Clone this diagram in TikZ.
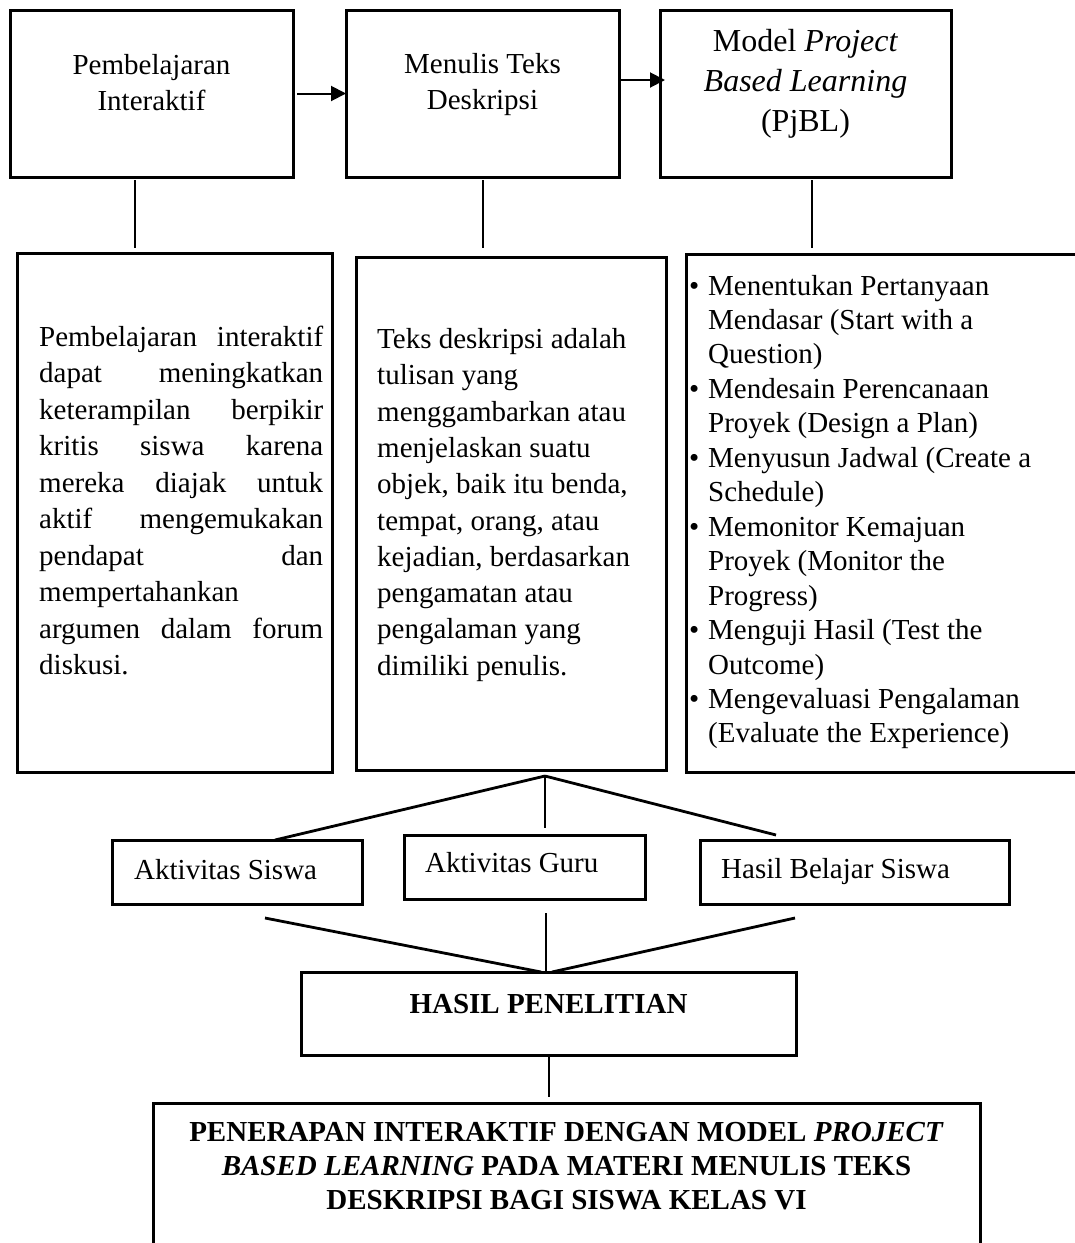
\documentclass[tikz,border=0pt]{standalone}
\usepackage{fontspec}
\setmainfont{Liberation Serif}
\usetikzlibrary{arrows.meta,calc}
\begin{document}
\begin{tikzpicture}[x=1pt,y=-1pt,
  box/.style={draw, line width=3pt, inner sep=0pt, outer sep=0pt, anchor=north west},
  conn/.style={line width=2.8pt},
  arr/.style={line width=2pt, -{Triangle[length=15pt,width=15pt]}},
  txt/.style={inner sep=0pt, anchor=base west, font=\fontsize{29}{34}\selectfont},
  ctxt/.style={inner sep=0pt, anchor=base, font=\fontsize{29}{34}\selectfont},
  btxt/.style={inner sep=0pt, anchor=base, font=\fontsize{29}{34}\selectfont\bfseries},
]
\useasboundingbox (0,0) rectangle (1075,1243);

% top row
\node[box, minimum width=283pt, minimum height=167pt] (b1) at (10,10) {};
\node[box, minimum width=273pt, minimum height=167pt] (b2) at (346,10) {};
\node[box, minimum width=291pt, minimum height=167pt] (b3) at (660,10) {};

\node[ctxt] (t1a) at (151.5,74) {Pembelajaran};
\node[ctxt] (t1b) at (151.5,110) {Interaktif};
\node[ctxt] (t2a) at (482.5,73) {Menulis Teks};
\node[ctxt] (t2b) at (482.5,109) {Deskripsi};
\node[ctxt, font=\fontsize{32}{40}\selectfont] (t3a) at (805.5,51) {Model \textit{Project}};
\node[ctxt, font=\fontsize{32}{40}\selectfont] (t3b) at (805.5,91) {\textit{Based Learning}};
\node[ctxt, font=\fontsize{32}{40}\selectfont] (t3c) at (805.5,131) {(PjBL)};

\draw[arr] ([xshift=4pt]b1.east) -- (b2.west);
\draw[arr] ([yshift=13.5pt]b2.east) -- ([yshift=13.5pt,xshift=5pt]b3.west);

% middle row
\node[box, minimum width=315pt, minimum height=519pt] (b4) at (17,253) {};
\node[box, minimum width=310pt, minimum height=513pt] (b5) at (356,257) {};
\node[box, minimum width=404pt, minimum height=518pt] (b6) at (686,254) {};

\draw[conn] ([xshift=125pt,yshift=-3pt]b1.south west) -- ([xshift=118pt,yshift=5pt]b4.north west);
\draw[conn] ([xshift=137pt,yshift=-3pt]b2.south west) -- ([xshift=127pt,yshift=9pt]b5.north west);
\draw[conn] ([xshift=152pt,yshift=-3pt]b3.south west) -- ([xshift=126pt,yshift=6pt]b6.north west);

\foreach \t [count=\i] in {
  {\makebox[284pt][s]{Pembelajaran interaktif}},
  {\makebox[284pt][s]{dapat meningkatkan}},
  {\makebox[284pt][s]{keterampilan berpikir}},
  {\makebox[284pt][s]{kritis siswa karena}},
  {\makebox[284pt][s]{mereka diajak untuk}},
  {\makebox[284pt][s]{aktif mengemukakan}},
  {\makebox[284pt][s]{pendapat dan}},
  {mempertahankan},
  {\makebox[284pt][s]{argumen dalam forum}},
  {diskusi.}}
  \node[txt] (pa\i) at (39,{346+36.5*(\i-1)}) {\t};

\foreach \t [count=\i] in {
  {Teks deskripsi adalah},
  {tulisan yang},
  {menggambarkan atau},
  {menjelaskan suatu},
  {objek, baik itu benda,},
  {tempat, orang, atau},
  {kejadian, berdasarkan},
  {pengamatan atau},
  {pengalaman yang},
  {dimiliki penulis.}}
  \node[txt] (pb\i) at (377,{348.5+36.3*(\i-1)}) {\t};

\foreach \t [count=\i] in {
  {\llap{\textbullet\hspace{9pt}}Menentukan Pertanyaan},
  {Mendasar (Start with a},
  {Question)},
  {\llap{\textbullet\hspace{9pt}}Mendesain Perencanaan},
  {Proyek (Design a Plan)},
  {\llap{\textbullet\hspace{9pt}}Menyusun Jadwal (Create a},
  {Schedule)},
  {\llap{\textbullet\hspace{9pt}}Memonitor Kemajuan},
  {Proyek (Monitor the},
  {Progress)},
  {\llap{\textbullet\hspace{9pt}}Menguji Hasil (Test the},
  {Outcome)},
  {\llap{\textbullet\hspace{9pt}}Mengevaluasi Pengalaman},
  {(Evaluate the Experience)}}
  \node[txt] (pc\i) at (708,{295+34.46*(\i-1)}) {\t};

% activity row
\node[box, minimum width=250pt, minimum height=64pt] (s1) at (112,840) {};
\node[box, minimum width=241pt, minimum height=64pt] (s2) at (404,835) {};
\node[box, minimum width=309pt, minimum height=64pt] (s3) at (700,840) {};
\node[txt] (s1t) at (134,879) {Aktivitas Siswa};
\node[txt] (s2t) at (425,872) {Aktivitas Guru};
\node[txt] (s3t) at (721,878) {Hasil Belajar Siswa};

\coordinate (apx) at (545,776);
\coordinate (gtop) at (545,828);
\coordinate (htop) at (776,835);
\draw[conn] (apx) -- ([xshift=163pt]s1.north west);
\draw[conn] (apx) -- (gtop);
\draw[conn] (apx) -- (htop);

% result
\node[box, minimum width=495pt, minimum height=83pt] (h) at (301,972) {};
\node[btxt] (ht) at (548.5,1013) {HASIL PENELITIAN};

\coordinate (lb) at (265,918);
\coordinate (mb) at (546,913);
\coordinate (rb) at (795,918);
\draw[conn] (lb) -- ([xshift=240pt]h.north west);
\draw[conn] (mb) -- ([xshift=245pt]h.north west);
\draw[conn] (rb) -- ([xshift=251pt]h.north west);

\node[box, minimum width=827pt, minimum height=170pt] (f) at (153,1103) {};
\coordinate (fb) at (549,1097);
\draw[conn] ([xshift=248pt]h.south west) -- (fb);

\node[btxt] (f1) at (566.5,1141) {PENERAPAN INTERAKTIF DENGAN MODEL \textit{PROJECT}};
\node[btxt] (f2) at (566.5,1175) {\textit{BASED LEARNING} PADA MATERI MENULIS TEKS};
\node[btxt] (f3) at (566.5,1209) {DESKRIPSI BAGI SISWA KELAS VI};
\end{tikzpicture}
\end{document}
